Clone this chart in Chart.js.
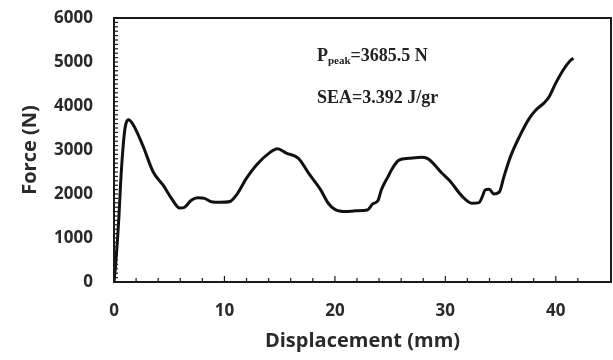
<!DOCTYPE html>
<html>
<head>
<meta charset="utf-8">
<script src="https://cdn.jsdelivr.net/npm/chart.js@4/dist/chart.umd.min.js"></script>
<style>
    html, body { margin: 0; padding: 0; background: #fff; }
    #wrap { width: 613px; height: 360px; }
</style>
</head>
<body>
<div id="wrap"><canvas id="grafico"></canvas></div>
<script>
// valores
const deslocamento = [0, 0.15, 0.3, 0.45, 0.6, 0.8, 1.0, 1.3, 1.75, 2.65, 3.55, 4.45, 5.2, 5.96, 6.4, 7.0, 7.6, 8.2, 8.8, 9.6, 10.5, 11.1, 12.0, 12.9, 14.1, 14.8, 15.6, 16.7, 17.6, 18.7, 19.4, 20.0, 21.0, 21.9, 22.95, 23.4, 23.9, 24.2, 24.8, 25.2, 25.8, 26.7, 27.9, 28.5, 29.7, 30.4, 31.55, 32.4, 33.05, 33.35, 33.6, 33.97, 34.4, 34.9, 35.3, 35.9, 36.7, 37.6, 38.2, 38.9, 39.4, 40.0, 40.7, 41.3, 41.6];
const forca = [0, 400, 900, 1500, 2250, 3000, 3500, 3685, 3570, 3075, 2500, 2200, 1900, 1680, 1700, 1860, 1915, 1900, 1825, 1810, 1830, 1980, 2360, 2660, 2940, 3030, 2930, 2810, 2480, 2100, 1790, 1650, 1600, 1620, 1636, 1770, 1850, 2090, 2390, 2580, 2770, 2810, 2834, 2790, 2470, 2300, 1940, 1790, 1805, 1940, 2090, 2110, 2000, 2050, 2390, 2850, 3300, 3720, 3910, 4060, 4210, 4520, 4830, 5030, 5085];
const anotacoes = ['P', 'peak', '=3685.5 N', 'SEA=3.392 J/gr'];

const pontos = deslocamento.map((d, i) => ({ x: d, y: forca[i] }));
const corTexto = '#2a2a2a';
const corEixo = '#1a1a1a';
const fonteEixo = "'Open Sans', sans-serif";

// moldura (topo/direita) + ticks internos + anotações
const molduraPlugin = {
    id: 'moldura',
    afterDatasetsDraw(chart) {
        const ctx = chart.ctx;
        const a = chart.chartArea;
        const sx = chart.scales.x;
        const sy = chart.scales.y;
        ctx.save();
        ctx.strokeStyle = corEixo;
        ctx.lineWidth = 1.2;
        sx.ticks.forEach(t => {
            const px = sx.getPixelForValue(t.value);
            const len = t.value % 10 === 0 ? 6 : 4;
            ctx.beginPath();
            ctx.moveTo(px, a.bottom);
            ctx.lineTo(px, a.bottom - len);
            ctx.stroke();
        });
        sy.ticks.forEach(t => {
            const py = sy.getPixelForValue(t.value);
            ctx.beginPath();
            ctx.moveTo(a.left, py);
            ctx.lineTo(a.left + 4, py);
            ctx.stroke();
        });
        ctx.lineWidth = 2;
        ctx.beginPath();
        ctx.moveTo(a.left, a.bottom);
        ctx.lineTo(a.left, a.top);
        ctx.lineTo(a.right, a.top);
        ctx.lineTo(a.right, a.bottom);
        ctx.lineTo(a.left, a.bottom);
        ctx.stroke();

        ctx.fillStyle = '#222';
        ctx.textBaseline = 'alphabetic';
        let x0 = 317;
        ctx.font = "bold 18px 'Liberation Serif', serif";
        ctx.fillText(anotacoes[0], x0, 61);
        x0 += ctx.measureText(anotacoes[0]).width;
        ctx.font = "bold 11px 'Liberation Serif', serif";
        ctx.fillText(anotacoes[1], x0, 64);
        x0 += ctx.measureText(anotacoes[1]).width;
        ctx.font = "bold 18px 'Liberation Serif', serif";
        ctx.fillText(anotacoes[2], x0, 61);
        ctx.fillText(anotacoes[3], 317, 103);
        ctx.restore();
    }
};

const gradeEixo = {
    display: true,
    drawOnChartArea: false,
    drawTicks: true,
    tickLength: 19,
    tickColor: 'rgba(0,0,0,0)'
};

new Chart(document.getElementById('grafico'), {
    type: 'line',
    data: {
        datasets: [{
            data: pontos,
            borderColor: '#111',
            borderWidth: 3,
            pointRadius: 0,
            fill: false,
            cubicInterpolationMode: 'monotone'
        }]
    },
    options: {
        responsive: true,
        maintainAspectRatio: false,
        animation: false,
        layout: { padding: { left: 0, right: 2, top: 18, bottom: 0 } },
        plugins: { legend: { display: false }, tooltip: { enabled: false } },
        scales: {
            x: {
                type: 'linear',
                min: 0,
                max: 45,
                afterFit: s => { s.height = 78; },
                grid: gradeEixo,
                border: { display: true, width: 2, color: corEixo },
                ticks: {
                    stepSize: 2,
                    autoSkip: false,
                    maxRotation: 0,
                    padding: 0,
                    color: corTexto,
                    font: { family: fonteEixo, size: 17, weight: 'bold' },
                    callback: v => (v % 10 === 0 ? v : '')
                },
                title: {
                    display: true,
                    text: 'Displacement (mm)',
                    color: corTexto,
                    padding: { top: 0, bottom: 7 },
                    font: { family: fonteEixo, size: 20, weight: 'bold' }
                }
            },
            y: {
                min: 0,
                max: 6000,
                afterFit: s => { s.width = 114; },
                grid: gradeEixo,
                border: { display: true, width: 2, color: corEixo },
                ticks: {
                    stepSize: 100,
                    autoSkip: false,
                    padding: 2,
                    color: corTexto,
                    font: { family: fonteEixo, size: 17, weight: 'bold' },
                    callback: v => (v % 1000 === 0 ? v : '')
                },
                title: {
                    display: true,
                    text: 'Force (N)',
                    color: corTexto,
                    padding: { top: 18, bottom: 0 },
                    font: { family: fonteEixo, size: 20, weight: 'bold' }
                }
            }
        }
    },
    plugins: [molduraPlugin]
});
</script>
</body>
</html>
